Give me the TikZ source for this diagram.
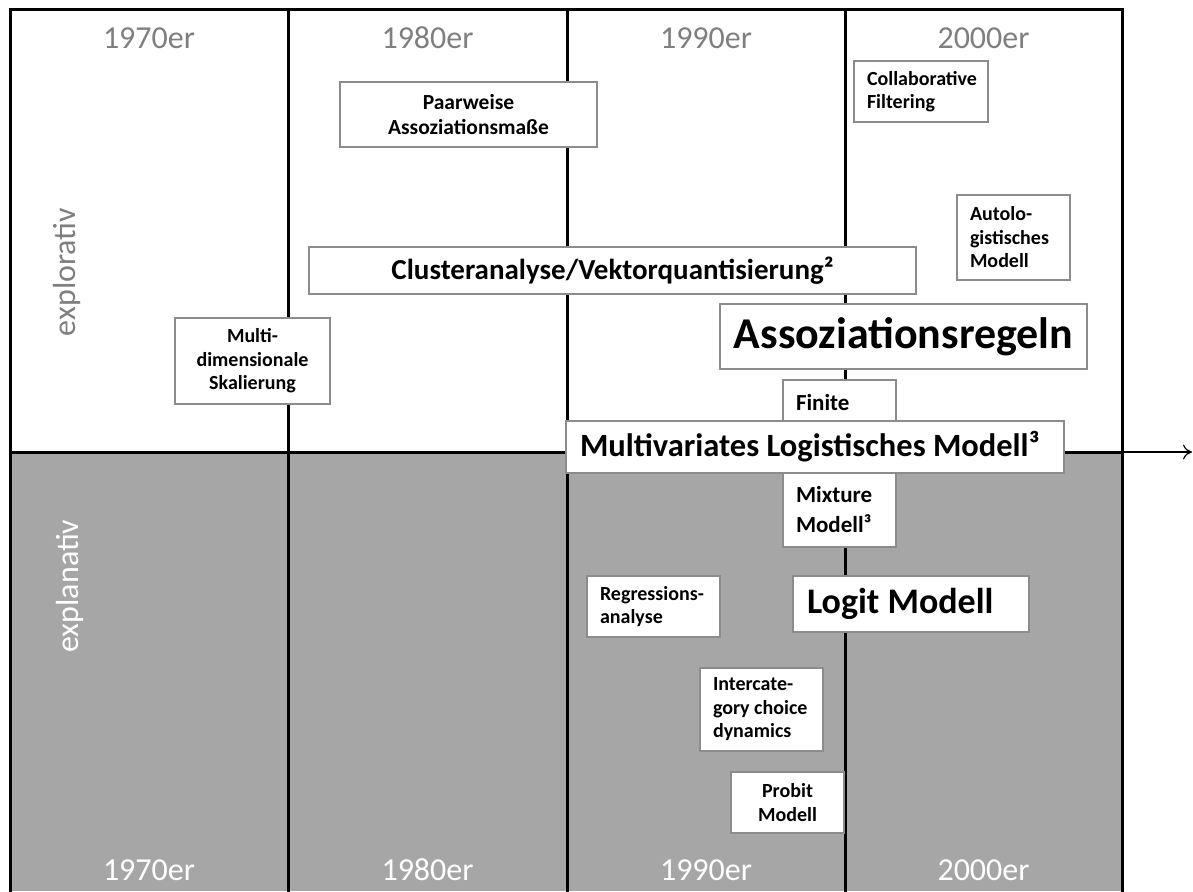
\documentclass[tikz,border=0pt]{standalone}
\usepackage{fontspec}
\setmainfont{Carlito}
\usetikzlibrary{arrows.meta}
\hyphenpenalty=10000
\exhyphenpenalty=10000
\definecolor{eragray}{RGB}{127,127,127}
\definecolor{bandgray}{RGB}{166,166,166}
\definecolor{boxgray}{RGB}{140,140,140}
\tikzset{
    box/.style={draw=boxgray, fill=white, line width=1.5pt, inner sep=0pt, font=\bfseries\fontsize{20}{23.5}\selectfont},
    era/.style={font=\fontsize{32}{38}\selectfont},
    rule/.style={line width=3pt},
}
\begin{document}
\begin{tikzpicture}[x=1pt,y=-1pt]
        \useasboundingbox (0,0) rectangle (1193,891);
        \fill[bandgray] (10,452) rectangle (1122,891);

        \path[draw,rule] (10,895) -- (10,10) -- (1122,10) -- (1122,895);
        \path[draw,rule] (288,10) -- (288,895);
        \path[draw,rule] (567,10) -- (567,895);
        \path[draw,rule] (845,10) -- (845,895);

        \coordinate (ax0) at (10,452);
        \coordinate (ax1) at (1122,452);
        \coordinate (ax2) at (1192,452);
        \path[draw,rule] (ax0) -- (ax1);
        \path[draw,line width=1.2pt,-{To[length=9pt,width=15pt]}] (ax1) -- (ax2);

        \node[era, text=eragray] (t70) at (149,38) {1970er};
        \node[era, text=eragray] (t80) at (427.5,38) {1980er};
        \node[era, text=eragray] (t90) at (706,38) {1990er};
        \node[era, text=eragray] (t00) at (983.5,38) {2000er};
        \node[era, text=white] (b70) at (149,870) {1970er};
        \node[era, text=white] (b80) at (427.5,870) {1980er};
        \node[era, text=white] (b90) at (706,870) {1990er};
        \node[era, text=white] (b00) at (983.5,870) {2000er};
        \node[era, text=eragray, rotate=90] (explo) at (67,272) {explorativ};
        \node[era, text=white, rotate=90] (expla) at (70,586) {explanativ};

        \node[box, minimum width=257pt, minimum height=65pt, align=center, font=\bfseries\fontsize{21.5}{25}\selectfont] (paar) at (468.5,114.5) {Paarweise\\Assoziationsmaße};
        \node[box, minimum width=155pt, minimum height=86pt, align=center] (mds) at (252.5,361) {Multi-\\dimensionale\\Skalierung};
        \node[box, minimum width=607pt, minimum height=47pt, font=\bfseries\fontsize{29}{34}\selectfont] (clust) at (612.5,270.5) {Clusteranalyse/Vektorquantisierung²};
        \node[box, minimum width=134pt, minimum height=61pt, text width=108pt, align=flush left] (collab) at (921,91.5) {Collaborative\\Filtering};
        \node[box, minimum width=113pt, minimum height=85pt, text width=87pt, align=flush left] (autolog) at (1013.5,237.5) {Autolo-\\gistisches\\Modell};
        \node[box, minimum width=367pt, minimum height=65pt, font=\bfseries\fontsize{44}{50}\selectfont] (regeln) at (903.5,336.5) {Assoziationsregeln};
        \node[box, minimum width=113pt, minimum height=167pt, text width=87pt, align=flush left, font=\bfseries\fontsize{23}{30}\selectfont] (fmm) at (839.5,463.5) {Finite\\[62pt]Mixture\\Modell³};
        \node[box, minimum width=498pt, minimum height=52pt, text width=470pt, align=flush left, font=\bfseries\fontsize{32.5}{38}\selectfont] (multi) at (815,447) {Multivariates Logistisches Modell³};
        \node[box, minimum width=133pt, minimum height=61pt, text width=107pt, align=flush left] (regr) at (653.5,606.5) {Regressions-\\analyse};
        \node[box, minimum width=236pt, minimum height=56pt, text width=208pt, align=flush left, font=\bfseries\fontsize{36}{42}\selectfont] (logit) at (911,604) {Logit Modell};
        \node[box, minimum width=123pt, minimum height=83pt, text width=97pt, align=flush left] (inter) at (761.5,709.5) {Intercate-\\gory choice\\dynamics};
        \node[box, minimum width=113pt, minimum height=61pt, align=center] (probit) at (787.5,802.5) {Probit\\Modell};
\end{tikzpicture}
\end{document}
